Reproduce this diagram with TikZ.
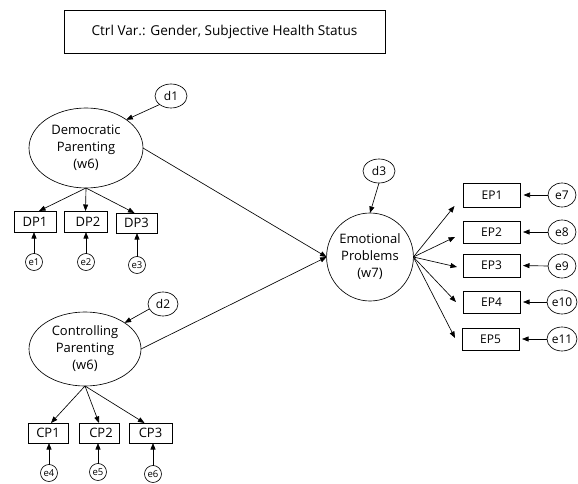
\documentclass[tikz,border=0pt]{standalone}
\usepackage{fontspec}
\setmainfont{Open Sans}
\usetikzlibrary{arrows.meta,shapes.geometric,calc}
\begin{document}
\begin{tikzpicture}[x=1pt,y=-1pt,
  line width=0.65pt,
  every node/.style={inner sep=0pt, outer sep=0pt},
  latent/.style={draw, ellipse, align=center, font=\fontsize{13}{17}\selectfont},
  dist/.style={draw, ellipse, font=\fontsize{12}{14}\selectfont},
  err/.style={draw, circle, minimum size=17pt, font=\fontsize{9.5}{11}\selectfont},
  errb/.style={draw, ellipse, minimum width=30pt, minimum height=24pt, font=\fontsize{12}{14}\selectfont},
  obs/.style={draw, rectangle, font=\fontsize{13}{15}\selectfont},
  obsb/.style={draw, rectangle, minimum width=57pt, minimum height=23pt, font=\fontsize{12}{14}\selectfont},
  arr/.style={-{Triangle[length=6.5pt,width=5pt]}}
]
\useasboundingbox (0,0) rectangle (578,484);

\node[draw, minimum width=321pt, minimum height=43pt, font=\fontsize{13.6}{16}\selectfont] (ctrl) at (224.5,31.5) {Ctrl Var.: Gender, Subjective Health Status};

% latent variables
\node[latent, minimum width=114pt, minimum height=80pt] (dem) at (86,148) {Democratic\\Parenting\\(w6)};
\node[latent, minimum width=112pt, minimum height=74pt] (con) at (85,349) {Controlling\\Parenting\\(w6)};
\node[latent, minimum width=83pt, minimum height=88pt] (emo) at (370,257) {Emotional\\Problems\\(w7)};

% disturbances
\node[dist, minimum width=32pt, minimum height=24pt] (d1) at (171,96) {d1};
\node[dist, minimum width=30pt, minimum height=24pt] (d2) at (163,304) {d2};
\node[dist, minimum width=32pt, minimum height=24pt] (d3) at (379,171) {d3};

% DP indicators
\node[obs, minimum width=42pt, minimum height=21pt] (dp1) at (35,221.5) {DP1};
\node[obs, minimum width=43pt, minimum height=21pt] (dp2) at (85.5,221.5) {\hspace{5pt}DP2};
\node[obs, minimum width=41pt, minimum height=20pt] (dp3) at (136.5,223) {DP3};
\node[err] (e1) at (34,262) {e1};
\node[err] (e2) at (86,262) {e2};
\node[err] (e3) at (137,265) {e3};

% CP indicators
\node[obs, minimum width=40pt, minimum height=20pt] (cp1) at (48,433) {CP1};
\node[obs, minimum width=40pt, minimum height=20pt] (cp2) at (99,433) {\hspace{4pt}CP2};
\node[obs, minimum width=43pt, minimum height=20pt] (cp3) at (150.5,433) {CP3\hspace{12pt}};
\node[err] (e4) at (49,473) {e4};
\node[err] (e5) at (98,472) {e5};
\node[err] (e6) at (153,474) {e6};

% EP indicators
\node[obsb, minimum height=24pt] (ep1) at (492,195) {EP1};
\node[obsb, minimum height=22pt] (ep2) at (491.5,232) {EP2};
\node[obsb] (ep3) at (491.5,265.5) {EP3};
\node[obsb, minimum height=22pt] (ep4) at (491.5,302) {EP4};
\node[obsb, minimum height=22pt] (ep5) at (490.5,339) {EP5};
\node[errb, minimum width=28pt] (e7) at (562,195) {e7};
\node[errb, minimum width=28pt] (e8) at (562,232) {e8};
\node[errb, minimum width=28pt] (e9) at (562,266) {e9};
\node[errb] (e10) at (562,302) {e10};
\node[errb] (e11) at (562,339) {e11};

% disturbance arrows
\draw[arr] (d1.south west) -- (dem.north east);
\draw[arr] (d2.200) -- (con.north east);
\draw[arr] (d3.south) -- (emo.north);

% structural paths
\draw[arr] (dem.east) -- (emo.west);
\draw[arr] (con.east) -- (emo.west);

% loadings
\draw[arr] (dem.south) -- ($(dp1.north)+(4,0)$);
\draw[arr] (dem.south) -- (dp2.north);
\draw[arr] (dem.south) -- ($(dp3.north)+(-2,0)$);
\draw[arr] (con.south) -- ($(cp1.north)+(3,0)$);
\draw[arr] (con.south) -- (cp2.north);
\draw[arr] (con.south) -- ($(cp3.north)+(-6,0)$);
\draw[arr] (emo.east) -- ($(ep1.west)+(-9,11)$);
\draw[arr] (emo.east) -- ($(ep2.west)+(-8,5)$);
\draw[arr] (emo.east) -- ($(ep3.west)+(-6,1.5)$);
\draw[arr] (emo.east) -- ($(ep4.west)+(-7,0)$);
\draw[arr] (emo.east) -- ($(ep5.west)+(-7,-1)$);

% errors
\draw[arr] (e1.north) -- (dp1.south -| e1.north);
\draw[arr] (e2.north) -- (dp2.south -| e2.north);
\draw[arr] (e3.north) -- (dp3.south -| e3.north);
\draw[arr] (e4.north) -- (cp1.south -| e4.north);
\draw[arr] (e5.north) -- (cp2.south -| e5.north);
\draw[arr] (e6.north) -- (cp3.south -| e6.north);
\draw[arr, shorten >=3pt] (e7.west) -- (ep1.east);
\draw[arr, shorten >=3pt] (e8.west) -- (ep2.east);
\draw[arr, shorten >=3pt] (e9.west) -- (ep3.east);
\draw[arr, shorten >=3pt] (e10.west) -- (ep4.east);
\draw[arr, shorten >=3pt] (e11.west) -- (ep5.east);
\end{tikzpicture}
\end{document}
